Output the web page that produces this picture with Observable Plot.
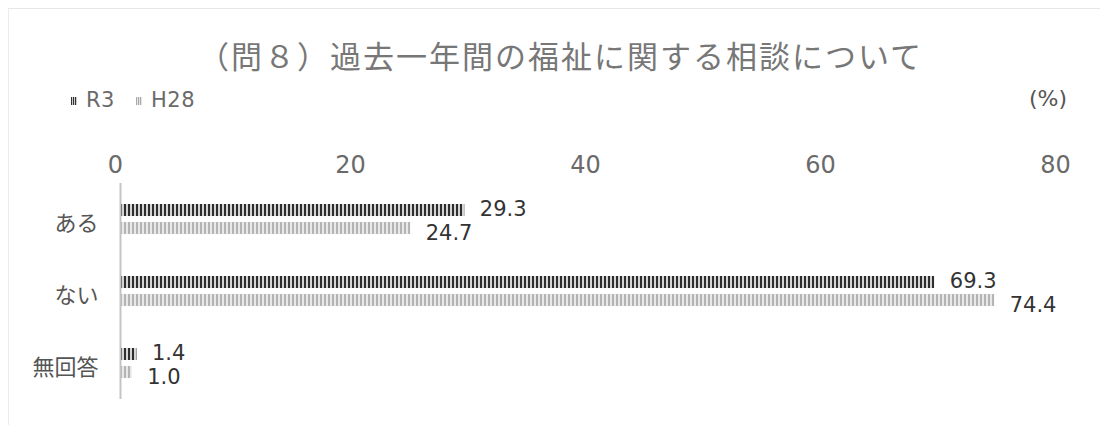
<!DOCTYPE html>
<html lang="ja">
<head>
<meta charset="utf-8">
<script src="https://cdn.jsdelivr.net/npm/d3@7"></script>
<script src="https://cdn.jsdelivr.net/npm/@observablehq/plot@0.6"></script>
<style>
  html, body { margin: 0; padding: 0; background: #fff; }
  body { width: 1100px; height: 425px; overflow: hidden; font-family: "Noto Sans CJK JP", "Noto Sans", sans-serif; }
  #frame { position: absolute; left: 8px; top: 8px; width: 1092px; height: 417px; border-top: 1px solid #e6e6e6; border-left: 1px solid #ececec; }
  #header { position: relative; height: 130px; }
  #title { position: absolute; left: 198px; top: 33px; font-size: 31px; line-height: 44px; letter-spacing: 2px; color: #777; white-space: nowrap; }
  .legend { position: absolute; top: 87px; font-size: 21px; line-height: 26px; color: #6a6a6a; font-family: "DejaVu Sans", sans-serif; letter-spacing: 0.5px; }
  .sw { position: absolute; top: 97px; width: 6px; height: 8px; }
  #unit { position: absolute; left: 1029px; top: 86px; font-size: 22px; line-height: 26px; color: #555; font-family: "DejaVu Sans", sans-serif; }
  #chart { position: absolute; left: 0; top: 130px; }
</style>
</head>
<body>
<div id="frame"></div>
<div id="header">
  <div id="title">（問８）過去一年間の福祉に関する相談について</div>
  <div class="sw" style="left:71px;background:repeating-linear-gradient(90deg,#333 0 1px,#ccc 1px 2px);"></div>
  <div class="legend" style="left:86px;">R3</div>
  <div class="sw" style="left:136px;background:repeating-linear-gradient(90deg,#aaa 0 1px,#e4e4e4 1px 2px);"></div>
  <div class="legend" style="left:151px;">H28</div>
  <div id="unit">(%)</div>
</div>
<div id="chart"></div>
<script>
// Survey answers and the two survey years
const categories = ["ある", "ない", "無回答"];
const seriesNames = ["R3", "H28"];
const valuesR3 = [29.3, 69.3, 1.4];
const valuesH28 = [24.7, 74.4, 1.0];
const xTicks = [0, 20, 40, 60, 80];

const rows = categories.flatMap((cat, i) => [
  {cat, series: "R3", value: valuesR3[i]},
  {cat, series: "H28", value: valuesH28[i]}
]);
const rowsR3 = rows.filter(d => d.series === "R3");
const rowsH28 = rows.filter(d => d.series === "H28");

const labelStyle = {x: "value", y: "series", fy: "cat", text: d => d.value.toFixed(1), textAnchor: "start", dx: 15, fontSize: 21, fill: "#333"};

const svg = Plot.plot({
  width: 1100,
  height: 285,
  marginLeft: 120,
  marginRight: 40,
  marginTop: 53,
  marginBottom: 16,
  style: {fontFamily: "DejaVu Sans, sans-serif", background: "transparent", color: "#666"},
  x: {domain: [0, 80]},
  y: {domain: seriesNames, paddingInner: 0.316, paddingOuter: 1.08, axis: null},
  fy: {domain: categories, padding: 0},
  marks: [
    Plot.axisX({anchor: "top", ticks: xTicks, tickSize: 0, tickPadding: 11, fontSize: 24, dx: -5, fill: "#6a6a6a", label: null}),
    Plot.axisFy({anchor: "left", tickSize: 0, tickPadding: 22, fontSize: 22, dy: 4, fill: "#555", label: null, fontFamily: "Noto Sans CJK JP"}),
    Plot.barX(rowsR3, {x: "value", y: "series", fy: "cat", fill: "url(#stripe-r3)"}),
    Plot.barX(rowsH28, {x: "value", y: "series", fy: "cat", fill: "url(#stripe-h28)"}),
    Plot.ruleX([0], {stroke: "#c4c4c4", strokeWidth: 2}),
    Plot.text(rowsR3, {...labelStyle, dy: -1}),
    Plot.text(rowsH28, {...labelStyle, dy: 5})
  ]
});

// Striped fills for the two series
const defs = d3.select(svg).insert("defs", ":first-child");
const r3 = defs.append("pattern").attr("id", "stripe-r3").attr("patternUnits", "userSpaceOnUse").attr("width", 4).attr("height", 4);
r3.append("rect").attr("width", 4).attr("height", 4).attr("fill", "#d4d4d4");
r3.append("rect").attr("width", 2).attr("height", 4).attr("fill", "#2e2e2e");
const h28 = defs.append("pattern").attr("id", "stripe-h28").attr("patternUnits", "userSpaceOnUse").attr("width", 4).attr("height", 4);
h28.append("rect").attr("width", 4).attr("height", 4).attr("fill", "#e8e8e8");
h28.append("rect").attr("width", 2).attr("height", 4).attr("fill", "#b4b4b4");

document.getElementById("chart").append(svg);
</script>
</body>
</html>
